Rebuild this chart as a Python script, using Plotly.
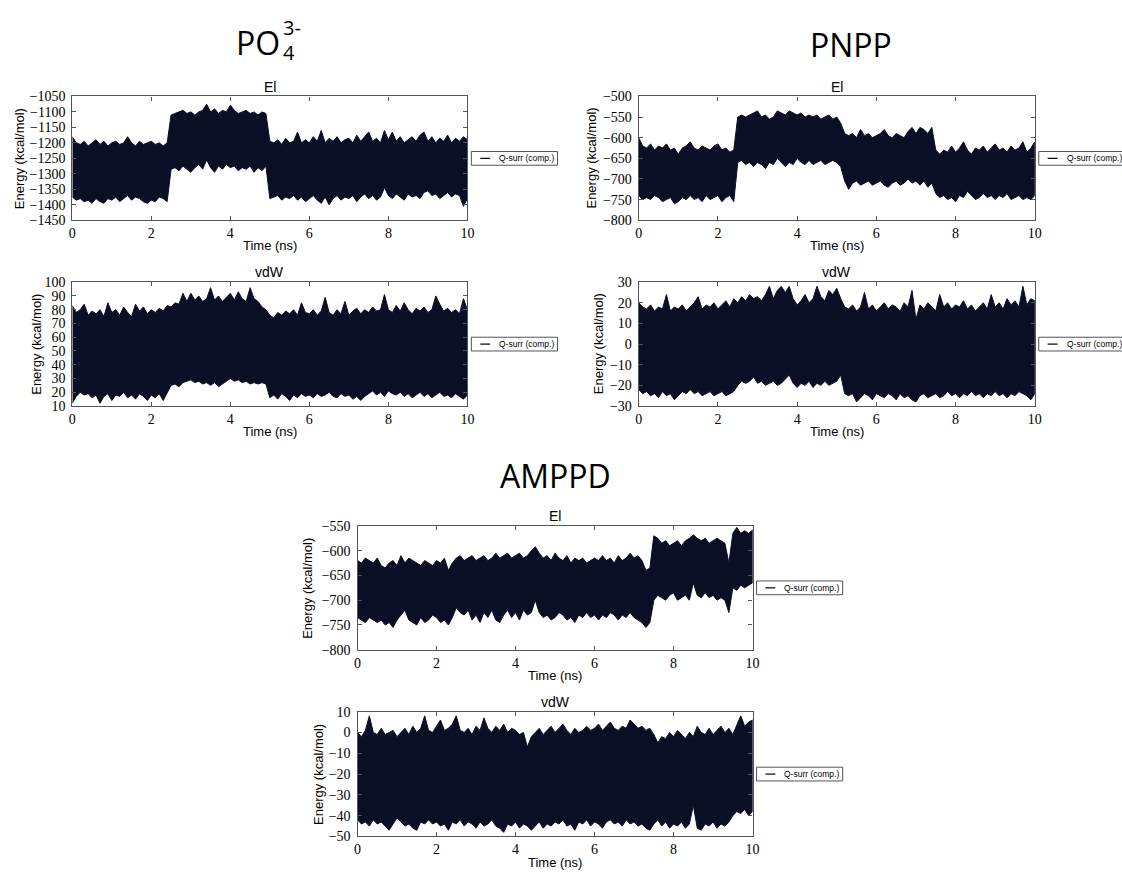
import plotly.graph_objects as go

W, H = 1122, 872

# ---------------- data (envelope of the dense trace) ----------------
TIME_NS = [
    0.0, 0.1, 0.2, 0.3, 0.4, 0.5, 0.6, 0.7, 0.8, 0.9,
    1.0, 1.1, 1.2, 1.3, 1.4, 1.5, 1.6, 1.7, 1.8, 1.9,
    2.0, 2.1, 2.2, 2.3, 2.4, 2.5, 2.6, 2.7, 2.8, 2.9,
    3.0, 3.1, 3.2, 3.3, 3.4, 3.5, 3.6, 3.7, 3.8, 3.9,
    4.0, 4.1, 4.2, 4.3, 4.4, 4.5, 4.6, 4.7, 4.8, 4.9,
    5.0, 5.1, 5.2, 5.3, 5.4, 5.5, 5.6, 5.7, 5.8, 5.9,
    6.0, 6.1, 6.2, 6.3, 6.4, 6.5, 6.6, 6.7, 6.8, 6.9,
    7.0, 7.1, 7.2, 7.3, 7.4, 7.5, 7.6, 7.7, 7.8, 7.9,
    8.0, 8.1, 8.2, 8.3, 8.4, 8.5, 8.6, 8.7, 8.8, 8.9,
    9.0, 9.1, 9.2, 9.3, 9.4, 9.5, 9.6, 9.7, 9.8, 9.9,
    10.0]

PO4_EL_UPPER = [
    -1180, -1200, -1205, -1195, -1210, -1200, -1190, -1205, -1195, -1210,
    -1200, -1195, -1205, -1200, -1180, -1200, -1210, -1195, -1205, -1200,
    -1195, -1205, -1200, -1210, -1200, -1110, -1105, -1100, -1095, -1105,
    -1100, -1110, -1100, -1095, -1075, -1100, -1090, -1105, -1095, -1100,
    -1078, -1095, -1105, -1100, -1095, -1105, -1100, -1110, -1100, -1105,
    -1195, -1200, -1190, -1205, -1185, -1200, -1195, -1165, -1200, -1190,
    -1200, -1180, -1195, -1160, -1200, -1185, -1195, -1180, -1200, -1190,
    -1185, -1200, -1175, -1195, -1180, -1165, -1195, -1185, -1200, -1160,
    -1190, -1165, -1195, -1180, -1200, -1190, -1180, -1195, -1175, -1165,
    -1195, -1180, -1200, -1185, -1195, -1175, -1200, -1185, -1195, -1180,
    -1190]
PO4_EL_LOWER = [
    -1375, -1385, -1380, -1390, -1385, -1395, -1380, -1390, -1395, -1380,
    -1385, -1375, -1390, -1380, -1370, -1385, -1375, -1380, -1390, -1395,
    -1385, -1390, -1375, -1380, -1390, -1285, -1280, -1290, -1275, -1285,
    -1295, -1280, -1270, -1285, -1255, -1280, -1295, -1275, -1285, -1270,
    -1280, -1275, -1290, -1280, -1285, -1275, -1295, -1280, -1290, -1275,
    -1380, -1375, -1370, -1385, -1375, -1380, -1370, -1385, -1375, -1390,
    -1380, -1370, -1385, -1395, -1375, -1400, -1380, -1370, -1385, -1375,
    -1380, -1370, -1390, -1375, -1365, -1380, -1370, -1385, -1375, -1345,
    -1370, -1380, -1365, -1375, -1385, -1365, -1375, -1370, -1380, -1360,
    -1355, -1370, -1365, -1380, -1370, -1360, -1375, -1365, -1370, -1405,
    -1380]

PO4_VDW_UPPER = [
    83, 78, 80, 84, 76, 79, 77, 80, 75, 85,
    78, 80, 76, 82, 78, 75, 84, 79, 82, 77,
    80, 78, 81, 79, 83, 82, 85, 84, 92, 86,
    92, 87, 90, 86, 88, 96, 87, 90, 86, 89,
    92, 87, 93, 88, 86, 96, 88, 86, 82, 80,
    76, 74, 78, 76, 79, 77, 80, 76, 85, 78,
    77, 80, 76, 79, 89, 78, 76, 80, 77, 86,
    76, 79, 81, 77, 80, 78, 82, 79, 80, 91,
    80, 78, 83, 79, 85, 80, 77, 81, 79, 82,
    78, 80, 90, 84, 79, 81, 78, 80, 77, 88,
    80]
PO4_VDW_LOWER = [
    12, 17, 20, 18, 19, 16, 18, 12, 17, 19,
    14, 18, 17, 20, 16, 18, 15, 19, 17, 14,
    18, 16, 19, 14, 19, 25, 26, 24, 27, 28,
    29, 27, 28, 26, 27, 25, 27, 24, 26, 28,
    30, 28, 29, 27, 28, 26, 27, 26, 27, 26,
    16, 18, 15, 19, 17, 14, 18, 16, 19, 17,
    18, 16, 19, 17, 18, 20, 17, 16, 19, 17,
    18, 15, 17, 14, 17, 19, 21, 18, 20, 17,
    21, 19, 18, 20, 17, 19, 16, 18, 20, 17,
    19, 16, 18, 20, 17, 18, 16, 19, 17, 15,
    18]

PNPP_EL_UPPER = [
    -600, -620, -625, -615, -630, -620, -625, -615, -630, -625,
    -640, -625, -620, -610, -625, -630, -620, -625, -630, -620,
    -615, -630, -625, -635, -630, -550, -545, -550, -545, -540,
    -535, -550, -545, -555, -550, -535, -540, -545, -535, -540,
    -545, -540, -550, -545, -550, -545, -555, -550, -545, -555,
    -550, -565, -590, -595, -590, -600, -580, -595, -590, -600,
    -595, -590, -580, -595, -600, -590, -595, -600, -585, -575,
    -590, -575, -580, -590, -575, -630, -640, -630, -635, -620,
    -635, -625, -610, -630, -640, -625, -630, -620, -635, -625,
    -615, -630, -625, -635, -620, -630, -625, -610, -635, -625,
    -610]
PNPP_EL_LOWER = [
    -740, -750, -745, -750, -740, -745, -755, -750, -745, -760,
    -755, -745, -750, -740, -750, -745, -755, -740, -750, -745,
    -740, -755, -745, -740, -755, -660, -655, -665, -660, -670,
    -660, -665, -675, -660, -665, -650, -660, -670, -660, -665,
    -650, -660, -665, -655, -665, -660, -655, -665, -660, -655,
    -660, -670, -705, -725, -710, -705, -715, -710, -705, -715,
    -710, -705, -715, -720, -710, -705, -715, -710, -700, -710,
    -705, -715, -705, -720, -710, -735, -745, -740, -750, -745,
    -755, -740, -745, -730, -740, -750, -745, -735, -745, -740,
    -750, -740, -745, -735, -750, -745, -740, -750, -745, -750,
    -740]

PNPP_VDW_UPPER = [
    20, 18, 17, 19, 16, 18, 17, 24, 16, 18,
    17, 19, 16, 18, 20, 23, 17, 19, 18, 20,
    17, 19, 21, 18, 22, 20, 23, 21, 24, 22,
    23, 21, 24, 28, 22, 26, 28, 25, 28, 22,
    19, 21, 24, 20, 22, 28, 23, 21, 26, 24,
    27, 22, 18, 17, 19, 16, 18, 25, 17, 19,
    16, 18, 20, 17, 19, 18, 16, 20, 18, 26,
    12, 19, 17, 20, 18, 16, 24, 18, 20, 17,
    19, 18, 21, 17, 19, 16, 18, 20, 17, 24,
    18, 20, 17, 22, 19, 21, 18, 28, 19, 22,
    21]
PNPP_VDW_LOWER = [
    -22, -24, -23, -25, -24, -26, -23, -25, -24, -27,
    -25, -23, -24, -22, -24, -23, -25, -24, -23, -25,
    -24, -23, -25, -24, -23, -20, -18, -19, -18, -16,
    -19, -18, -20, -19, -18, -20, -19, -17, -15, -19,
    -21, -19, -20, -18, -21, -19, -20, -18, -20, -19,
    -18, -15, -24, -25, -24, -28, -26, -24, -25, -27,
    -24, -25, -26, -24, -25, -27, -24, -26, -25, -27,
    -28, -25, -24, -26, -25, -24, -26, -25, -23, -25,
    -24, -26, -24, -25, -23, -25, -24, -26, -24, -25,
    -23, -25, -24, -26, -24, -25, -23, -24, -25, -27,
    -24]

AMPPD_EL_UPPER = [
    -620, -625, -615, -620, -625, -615, -630, -635, -625, -620,
    -630, -610, -625, -615, -620, -625, -630, -620, -625, -630,
    -620, -625, -615, -640, -625, -615, -610, -620, -615, -610,
    -620, -615, -610, -620, -615, -605, -615, -610, -605, -615,
    -610, -605, -615, -610, -600, -592, -605, -615, -610, -620,
    -605, -615, -620, -610, -625, -615, -620, -615, -625, -620,
    -615, -620, -610, -620, -615, -625, -610, -620, -615, -605,
    -615, -610, -620, -640, -635, -570, -575, -585, -580, -590,
    -585, -580, -590, -580, -575, -568, -575, -580, -575, -585,
    -580, -575, -580, -585, -625, -565, -553, -565, -560, -565,
    -558]
AMPPD_EL_LOWER = [
    -735, -740, -745, -735, -740, -745, -740, -750, -745, -755,
    -740, -730, -720, -740, -745, -750, -735, -745, -740, -730,
    -735, -745, -740, -750, -735, -715, -725, -730, -720, -740,
    -730, -745, -725, -735, -720, -740, -745, -730, -720, -735,
    -725, -740, -720, -730, -725, -700, -725, -735, -730, -740,
    -735, -725, -730, -740, -735, -745, -730, -735, -725, -735,
    -730, -740, -730, -735, -725, -730, -740, -730, -735, -725,
    -735, -740, -745, -755, -745, -700, -690, -695, -700, -690,
    -685, -700, -695, -690, -700, -665, -690, -695, -685, -695,
    -690, -700, -695, -700, -725, -675, -680, -670, -675, -670,
    -665]

AMPPD_VDW_UPPER = [
    0, -2, 1, 8, 0, -1, 2, -1, 0, 1,
    -2, 0, 2, -1, 3, 0, 2, 8, 1, 0,
    3, 6, 1, 2, 4, 8, 1, 0, 2, -1,
    3, 1, 7, 2, 0, 3, 1, 4, 0, 2,
    1, -1, 0, -7, -2, 0, 2, -1, 1, 3,
    0, 2, 4, 1, -1, 2, 0, 1, 3, 1,
    2, 4, 1, 3, 5, 2, 1, 3, 2, 6,
    4, 2, 3, 1, 2, -1, -5, -2, -3, 0,
    -2, 1, -1, -3, 0, -2, 3, 0, -1, 2,
    -1, 1, 3, 0, 2, -1, 4, 8, 3, 5,
    6]
AMPPD_VDW_LOWER = [
    -42, -44, -43, -45, -42, -44, -43, -45, -47, -44,
    -41, -43, -45, -44, -46, -47, -43, -44, -42, -44,
    -43, -45, -44, -47, -43, -44, -42, -45, -43, -44,
    -46, -43, -45, -44, -42, -45, -46, -48, -44, -45,
    -43, -46, -44, -45, -47, -45, -43, -46, -44, -45,
    -43, -44, -42, -45, -44, -47, -43, -44, -42, -45,
    -43, -44, -46, -43, -42, -44, -43, -45, -42, -44,
    -43, -45, -44, -46, -47, -44, -42, -45, -43, -46,
    -44, -45, -43, -46, -44, -35, -46, -47, -44, -45,
    -43, -46, -44, -45, -43, -40, -38, -39, -37, -40,
    -38]

X_TICKS = [0, 2, 4, 6, 8, 10]
PO4_EL_TICKS = [-1450, -1400, -1350, -1300, -1250, -1200, -1150, -1100, -1050]
PO4_VDW_TICKS = [10, 20, 30, 40, 50, 60, 70, 80, 90, 100]
PNPP_EL_TICKS = [-800, -750, -700, -650, -600, -550, -500]
PNPP_VDW_TICKS = [-30, -20, -10, 0, 10, 20, 30]
AMPPD_EL_TICKS = [-800, -750, -700, -650, -600, -550]
AMPPD_VDW_TICKS = [-50, -40, -30, -20, -10, 0, 10]

SERIES_NAME = "Q-surr (comp.)"
HEADINGS = ["PNPP", "AMPPD"]

# ---------------- styling ----------------
INK = "#0b0f26"
FRAME = "#50545e"
SANS = "Liberation Sans, Arial, sans-serif"
SERIF = "Liberation Serif"
HEAD = "Open Sans, Noto Sans, sans-serif"

# panel boxes in pixels: (left, right, top, bottom)
panels = [
    dict(up=PO4_EL_UPPER, lo=PO4_EL_LOWER, ticks=PO4_EL_TICKS, box=(69, 468, 91, 217), title="El", ylab_dx=53),
    dict(up=PO4_VDW_UPPER, lo=PO4_VDW_LOWER, ticks=PO4_VDW_TICKS, box=(69, 468, 280, 406), title="vdW", ylab_dx=37),
    dict(up=PNPP_EL_UPPER, lo=PNPP_EL_LOWER, ticks=PNPP_EL_TICKS, box=(641, 1041, 91, 217), title="El", ylab_dx=48),
    dict(up=PNPP_VDW_UPPER, lo=PNPP_VDW_LOWER, ticks=PNPP_VDW_TICKS, box=(641, 1041, 280, 406), title="vdW", ylab_dx=41),
    dict(up=AMPPD_EL_UPPER, lo=AMPPD_EL_LOWER, ticks=AMPPD_EL_TICKS, box=(357, 756, 528, 654), title="El", ylab_dx=50),
    dict(up=AMPPD_VDW_UPPER, lo=AMPPD_VDW_LOWER, ticks=AMPPD_VDW_TICKS, box=(357, 756, 717, 844), title="vdW", ylab_dx=40),
]


def px(x):
    return x / W


def py(y):
    return 1 - y / H


fig = go.Figure()
layout = dict(
    width=W, height=H, margin=dict(l=0, r=0, t=0, b=0),
    paper_bgcolor="white", plot_bgcolor="white", showlegend=False,
)
annotations = []
shapes = []

for i, p in enumerate(panels, start=1):
    sfx = "" if i == 1 else str(i)
    l, r, t, b = p["box"]
    fig.add_trace(go.Scatter(
        x=TIME_NS + TIME_NS[::-1], y=p["up"] + p["lo"][::-1],
        mode="lines", fill="toself", fillcolor=INK,
        line=dict(color=INK, width=1), name=SERIES_NAME,
        xaxis="x" + sfx, yaxis="y" + sfx, hoverinfo="skip", showlegend=False,
    ))
    common = dict(
        showgrid=False, zeroline=False, showline=True, linecolor=FRAME, linewidth=1.2,
        mirror="ticks", ticks="inside", ticklen=4, tickcolor=FRAME, tickwidth=1,
        tickfont=dict(family=SERIF, size=14, color="black"),
    )
    layout["xaxis" + sfx] = dict(
        domain=[px(l), px(r)], anchor="y" + sfx, range=[0, 10], ticklabelstandoff=0,
        tickmode="array", tickvals=X_TICKS, ticktext=[str(v) for v in X_TICKS], **common)
    layout["yaxis" + sfx] = dict(
        domain=[py(b), py(t)], anchor="x" + sfx, range=[p["ticks"][0], p["ticks"][-1]],
        ticklabelstandoff=3,
        tickmode="array", tickvals=p["ticks"],
        ticktext=[("\u2212" + str(-v)) if v < 0 else str(v) for v in p["ticks"]], **common)

    cx = (l + r) / 2
    cy = (t + b) / 2
    # subplot title
    annotations.append(dict(x=px(cx), y=py(t - 10), xref="paper", yref="paper", text=p["title"],
                            showarrow=False, xanchor="center", yanchor="middle",
                            font=dict(family=SANS, size=14, color="black")))
    # x label
    annotations.append(dict(x=px(cx), y=py(b + 26), xref="paper", yref="paper", text="Time (ns)",
                            showarrow=False, xanchor="center", yanchor="middle",
                            font=dict(family=SANS, size=13, color="black")))
    # y label
    annotations.append(dict(x=px(l - p["ylab_dx"]), y=py(cy), xref="paper", yref="paper",
                            text="Energy (kcal/mol)", textangle=-90, showarrow=False,
                            xanchor="center", yanchor="middle",
                            font=dict(family=SANS, size=13, color="black")))
    # legend (drawn as box + sample line + label)
    lx0 = r + 4
    lx1 = lx0 + 87
    shapes.append(dict(type="rect", xref="paper", yref="paper", x0=px(lx0), x1=px(lx1),
                       y0=py(cy + 7), y1=py(cy - 7), line=dict(color=FRAME, width=1),
                       fillcolor="white", layer="above"))
    shapes.append(dict(type="line", xref="paper", yref="paper", x0=px(lx0 + 9), x1=px(lx0 + 19),
                       y0=py(cy), y1=py(cy), line=dict(color="black", width=1.2), layer="above"))
    annotations.append(dict(x=px(lx0 + 26), y=py(cy), xref="paper", yref="paper", text=SERIES_NAME,
                            showarrow=False, xanchor="left", yanchor="middle",
                            font=dict(family=SANS, size=8.5, color="black")))

# headings
annotations.append(dict(x=px(281), y=py(36), xref="paper", yref="paper", text="PO",
                        showarrow=False, xanchor="right", yanchor="middle",
                        font=dict(family=HEAD, size=32, color="black")))
annotations.append(dict(x=px(280), y=py(46), xref="paper", yref="paper", text="4",
                        showarrow=False, xanchor="left", yanchor="middle",
                        font=dict(family=HEAD, size=20, color="black")))
annotations.append(dict(x=px(280), y=py(21), xref="paper", yref="paper", text="3-",
                        showarrow=False, xanchor="left", yanchor="middle",
                        font=dict(family=HEAD, size=20, color="black")))
annotations.append(dict(x=px(855), y=py(38), xref="paper", yref="paper", text=HEADINGS[0],
                        showarrow=False, xanchor="center", yanchor="middle",
                        font=dict(family=HEAD, size=32, color="black")))
annotations.append(dict(x=px(557), y=py(477), xref="paper", yref="paper", text=HEADINGS[1],
                        showarrow=False, xanchor="center", yanchor="middle",
                        font=dict(family=HEAD, size=32, color="black")))

layout["annotations"] = annotations
layout["shapes"] = shapes
fig.update_layout(**layout)
fig.write_html("out.html")
